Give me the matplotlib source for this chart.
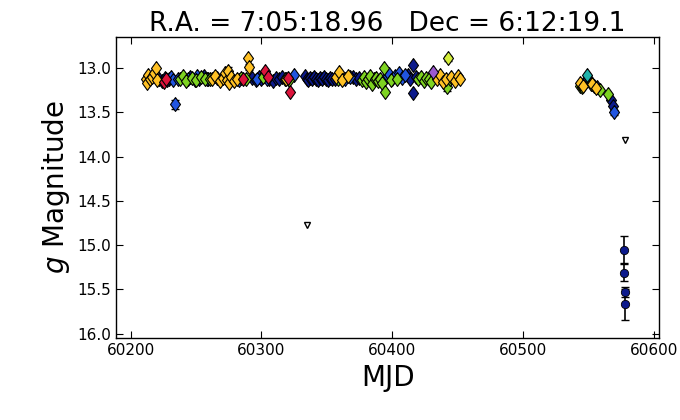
import matplotlib
matplotlib.use("Agg")
import matplotlib.pyplot as plt

title = "R.A. = 7:05:18.96   Dec = 6:12:19.1"

yellow_mjd = [60211.5, 60212.3, 60213.0, 60214.5, 60216.0, 60218.2, 60219.0, 60220.5, 60262.0, 60264.5,
              60268.0, 60270.5, 60272.0, 60273.5, 60274.3, 60275.5, 60277.0, 60279.0, 60281.0, 60290.0,
              60290.3, 60319.0, 60357.0, 60359.5, 60362.0, 60366.0, 60434.0, 60436.5, 60439.0, 60441.0,
              60445.0, 60448.0, 60450.5, 60452.0, 60543.5, 60546.0, 60553.0, 60555.5]
yellow_mag = [13.12, 13.17, 13.08, 13.13, 13.10, 13.06, 13.00, 13.14, 13.13, 13.09,
              13.15, 13.11, 13.06, 13.14, 13.03, 13.17, 13.10, 13.15, 13.12, 12.89,
              12.99, 13.13, 13.10, 13.05, 13.14, 13.09, 13.12, 13.08, 13.16, 13.13,
              13.10, 13.15, 13.09, 13.13, 13.17, 13.20, 13.18, 13.23]

navy_mjd = [60222.0, 60224.0, 60226.5, 60229.0, 60245.5, 60249.0, 60252.5, 60256.0, 60259.5, 60293.0,
            60295.5, 60298.0, 60300.0, 60306.0, 60308.5, 60311.0, 60313.5, 60316.0, 60333.0, 60334.5,
            60336.0, 60337.5, 60339.0, 60340.5, 60342.0, 60343.5, 60345.0, 60346.5, 60348.0, 60349.5,
            60351.0, 60352.5, 60354.0, 60356.0, 60370.0, 60372.5, 60375.0, 60412.0, 60414.0, 60416.0,
            60416.3, 60418.0, 60548.0, 60554.0, 60557.0, 60567.0, 60568.5]
navy_mag = [13.12, 13.15, 13.11, 13.13, 13.10, 13.14, 13.12, 13.09, 13.13, 13.11,
            13.14, 13.10, 13.13, 13.12, 13.15, 13.11, 13.13, 13.10, 13.09, 13.12,
            13.14, 13.11, 13.13, 13.10, 13.12, 13.14, 13.11, 13.13, 13.10, 13.12,
            13.14, 13.11, 13.13, 13.12, 13.10, 13.13, 13.11, 13.08, 13.12, 12.97,
            13.28, 13.10, 13.14, 13.20, 13.22, 13.36, 13.43]

blue_mjd = [60228.0, 60230.5, 60232.5, 60234.0, 60236.0, 60243.5, 60251.0, 60258.0, 60266.0, 60283.0,
            60296.5, 60302.0, 60304.5, 60325.0, 60364.0, 60368.0, 60386.0, 60395.0, 60397.5, 60400.0,
            60402.5, 60405.0, 60407.5, 60410.0, 60437.5, 60550.0, 60551.5, 60570.0]
blue_mag = [13.14, 13.10, 13.14, 13.41, 13.13, 13.12, 13.09, 13.13, 13.11, 13.14,
            13.12, 13.09, 13.13, 13.08, 13.12, 13.10, 13.13, 13.10, 13.07, 13.12,
            13.09, 13.06, 13.11, 13.08, 13.11, 13.12, 13.15, 13.50]

green_mjd = [60238.0, 60240.0, 60242.0, 60247.0, 60250.0, 60253.5, 60257.0, 60261.0, 60284.5, 60288.0,
             60301.0, 60318.0, 60321.0, 60358.5, 60361.0, 60377.0, 60378.5, 60380.0, 60381.5, 60383.0,
             60384.5, 60386.5, 60388.0, 60389.5, 60391.0, 60392.5, 60394.0, 60394.3, 60399.0, 60404.0,
             60420.0, 60422.0, 60424.0, 60426.0, 60428.0, 60430.0, 60442.0, 60444.0, 60544.0, 60545.5,
             60552.0, 60559.0, 60565.0]
green_mag = [13.12, 13.09, 13.15, 13.11, 13.14, 13.10, 13.13, 13.12, 13.11, 13.13,
             13.10, 13.12, 13.14, 13.13, 13.11, 13.14, 13.10, 13.16, 13.12, 13.09,
             13.18, 13.13, 13.11, 13.15, 13.12, 13.17, 13.00, 13.27, 13.14, 13.13,
             13.12, 13.10, 13.15, 13.11, 13.13, 13.16, 13.21, 13.12, 13.20, 13.22,
             13.18, 13.25, 13.29]

red_mjd = [60225.5, 60227.0, 60286.0, 60303.0, 60305.0, 60320.0, 60322.0]
red_mag = [13.16, 13.12, 13.12, 13.03, 13.10, 13.11, 13.27]

purple_mjd = [60431.0]
purple_mag = [13.05]

cyan_mjd = [60549.0]
cyan_mag = [13.08]

lime_mjd = [60442.5]
lime_mag = [12.89]

faint_mjd = [60577.5, 60577.6, 60577.7, 60577.8]
faint_mag = [15.05, 15.31, 15.53, 15.67]
faint_err = [0.15, 0.10, 0.06, 0.17]

limit_mjd = [60335.0, 60578.0]
limit_mag = [14.77, 13.81]

# visible error bars on bright points
ebar_mjd = [60234.0, 60274.3, 60442.0, 60442.5, 60290.3, 60570.0]
ebar_mag = [13.41, 13.03, 13.21, 12.89, 12.99, 13.50]
ebar_err = [0.05, 0.04, 0.05, 0.03, 0.03, 0.03]

series = [
    (navy_mjd, navy_mag, "#0c1a8c"),
    (blue_mjd, blue_mag, "#2155e0"),
    (green_mjd, green_mag, "#7ed321"),
    (yellow_mjd, yellow_mag, "#ffc125"),
    (red_mjd, red_mag, "#dc143c"),
    (purple_mjd, purple_mag, "#9b59d0"),
    (cyan_mjd, cyan_mag, "#20b2aa"),
    (lime_mjd, lime_mag, "#d4ee3a"),
]

diamond = [(0, 1), (0.72, 0), (0, -1), (-0.72, 0), (0, 1)]

fig = plt.figure(figsize=(6.8, 4.2), dpi=100)
ax = fig.add_axes([0.171, 0.195, 0.798, 0.717])

ax.errorbar(ebar_mjd, ebar_mag, yerr=ebar_err, fmt="none", ecolor="k",
            elinewidth=1, capsize=3, zorder=1)
ax.errorbar(faint_mjd, faint_mag, yerr=faint_err, fmt="none", ecolor="k",
            elinewidth=1.2, capsize=3, zorder=1)

for mjd, mag, col in series:
    ax.plot(mjd, mag, linestyle="none", marker=diamond, markersize=10,
            markerfacecolor=col, markeredgecolor="k", markeredgewidth=0.8, zorder=2)

ax.plot(faint_mjd, faint_mag, linestyle="none", marker="o", markersize=6,
        markerfacecolor="#0c1a8c", markeredgecolor="k", markeredgewidth=0.6, zorder=3)
ax.plot(limit_mjd, limit_mag, linestyle="none", marker="v", markersize=5,
        markerfacecolor="white", markeredgecolor="k", markeredgewidth=1.0, zorder=3)

ax.set_xlim(60189, 60604)
ax.set_ylim(16.05, 12.65)
ax.set_xticks([60200, 60300, 60400, 60500, 60600])
ax.set_yticks([13.0, 13.5, 14.0, 14.5, 15.0, 15.5, 16.0])
ax.set_yticklabels(["13.0", "13.5", "14.0", "14.5", "15.0", "15.5", "16.0"])
ax.tick_params(direction="in", top=True, right=True, length=5, width=0.8, labelsize=11)
for s in ax.spines.values():
    s.set_linewidth(1.0)

ax.set_title(title, fontsize=19, pad=4)
ax.set_xlabel("MJD", fontsize=20)
ax.set_ylabel("$g$ Magnitude", fontsize=20)

fig.savefig("out.png", dpi=100, facecolor="white")
